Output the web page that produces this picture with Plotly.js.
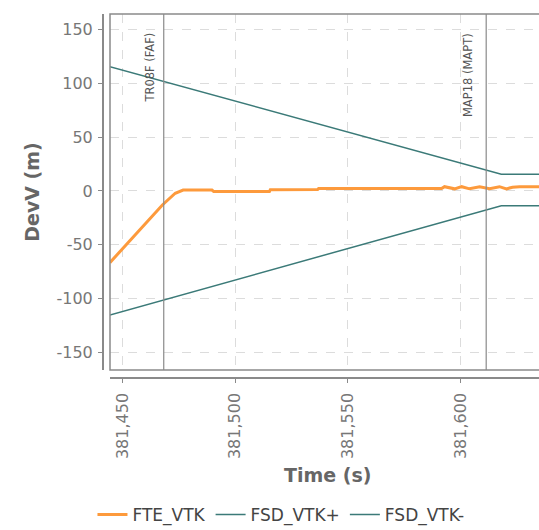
<!DOCTYPE html>
<html>
<head>
<meta charset="utf-8">
<script src="https://cdn.plot.ly/plotly-3.0.1.min.js"></script>
<style>
html,body{margin:0;padding:0;overflow:hidden;background:#fff;}
#chart{width:545px;height:560px;}
</style>
</head>
<body>
<div id="chart"></div>
<script>
// FTE_VTK (orange)
var fteTime = [381444.4, 381467.7, 381473.4, 381476.9, 381489.7, 381490.5, 381515.2, 381515.6, 381536.6, 381537.0, 381591.6, 381592.9, 381597.4, 381600.5, 381604.0, 381608.5, 381612.9, 381617.3, 381620.4, 381623.1, 381626.2, 381637.5];
var fteVal  = [-66.7, -13, -2.1, 0.9, 0.9, -0.6, -0.6, 1.2, 1.4, 2.2, 2.2, 4, 2, 4, 2, 4, 2.2, 4, 2, 3.5, 4, 4];
// FSD_VTK+ / FSD_VTK- (teal)
var fsdTime = [381444.4, 381618.1, 381637.5];
var fsdPlus = [115.7, 15.5, 15.5];
var fsdMinus = [-115.4, -13.7, -13.7];
// waypoint markers
var wpTime = [381468.3, 381611.4];
var wpLabel = ["TR08F (FAF)", "MAP18 (MAPT)"];
var wpShift = [-14, -18];
// ticks
var xTickVals = [381450, 381500, 381550, 381600];
var xTickText = ["381,450", "381,500", "381,550", "381,600"];
var yTickVals = [-150, -100, -50, 0, 50, 100, 150];
var yTickText = ["-150", "-100", "-50", "0", "50", "100", "150"];
var xTitle = "Time (s)";
var yTitle = "DevV (m)";

var FONT = "DejaVu Sans";
var traces = [
  {x: fteTime, y: fteVal, name: "FTE_VTK", type: "scatter", mode: "lines",
   line: {color: "#fd9a3c", width: 3}},
  {x: fsdTime, y: fsdPlus, name: "FSD_VTK+", type: "scatter", mode: "lines",
   line: {color: "#3b7a78", width: 1.5}},
  {x: fsdTime, y: fsdMinus, name: "FSD_VTK-", type: "scatter", mode: "lines",
   line: {color: "#3b7a78", width: 1.5}}
];

var shapes = [{type: "rect", xref: "x domain", yref: "y domain", x0: 0, x1: 1, y0: 0, y1: 1,
  line: {color: "#8a8a8a", width: 1.5}, layer: "above"}];
var annotations = [];
for (var i = 0; i < wpTime.length; i++) {
  shapes.push({type: "line", xref: "x", yref: "y domain", x0: wpTime[i], x1: wpTime[i], y0: 0, y1: 1,
    line: {color: "#8a8a8a", width: 1.2}});
  annotations.push({x: wpTime[i], xref: "x", y: 149, yref: "y", text: wpLabel[i], showarrow: false,
    textangle: -90, xanchor: "center", yanchor: "top", xshift: wpShift[i],
    font: {family: FONT, size: 11.5, color: "#555"}});
}
// x axis title (annotation for exact vertical position): centre at 475px
annotations.push({x: 0.5, xref: "x domain", y: -0.27, yref: "paper", text: xTitle, showarrow: false,
  xanchor: "center", yanchor: "middle",
  font: {family: FONT, size: 19, color: "#666", weight: "bold"}});

var layout = {
  width: 545, height: 560,
  margin: {l: 102, r: 0, t: 14, b: 183},
  paper_bgcolor: "#fff", plot_bgcolor: "#fff",
  showlegend: true,
  legend: {orientation: "h", x: 0.404, xanchor: "center", y: -0.38, yanchor: "middle",
    font: {family: FONT, size: 17, color: "#444"}},
  xaxis: {domain: [0.01806, 1], anchor: "free", position: 0,
    range: [381444.45, 381637.5], tickvals: xTickVals, ticktext: xTickText, tickangle: -90,
    showline: true, linecolor: "#8a8a8a", linewidth: 1.5,
    ticks: "outside", ticklen: 4, tickcolor: "#8a8a8a", ticklabelstandoff: 4,
    showgrid: true, gridcolor: "#dcdcdc", griddash: "dash", zeroline: false,
    tickfont: {family: FONT, size: 16, color: "#777"}},
  yaxis: {domain: [0.01928, 1], anchor: "free", position: 0,
    range: [-166.6, 164.7], tickvals: yTickVals, ticktext: yTickText,
    showline: true, linecolor: "#8a8a8a", linewidth: 1.5,
    ticks: "outside", ticklen: 4, tickcolor: "#8a8a8a", ticklabelstandoff: 2,
    showgrid: true, gridcolor: "#dcdcdc", griddash: "dash", zeroline: false,
    tickfont: {family: FONT, size: 16, color: "#777"},
    title: {text: yTitle, standoff: 10, font: {family: FONT, size: 19, color: "#666", weight: "bold"}}},
  shapes: shapes,
  annotations: annotations
};
Plotly.newPlot("chart", traces, layout, {displayModeBar: false, staticPlot: true});
</script>
</body>
</html>
